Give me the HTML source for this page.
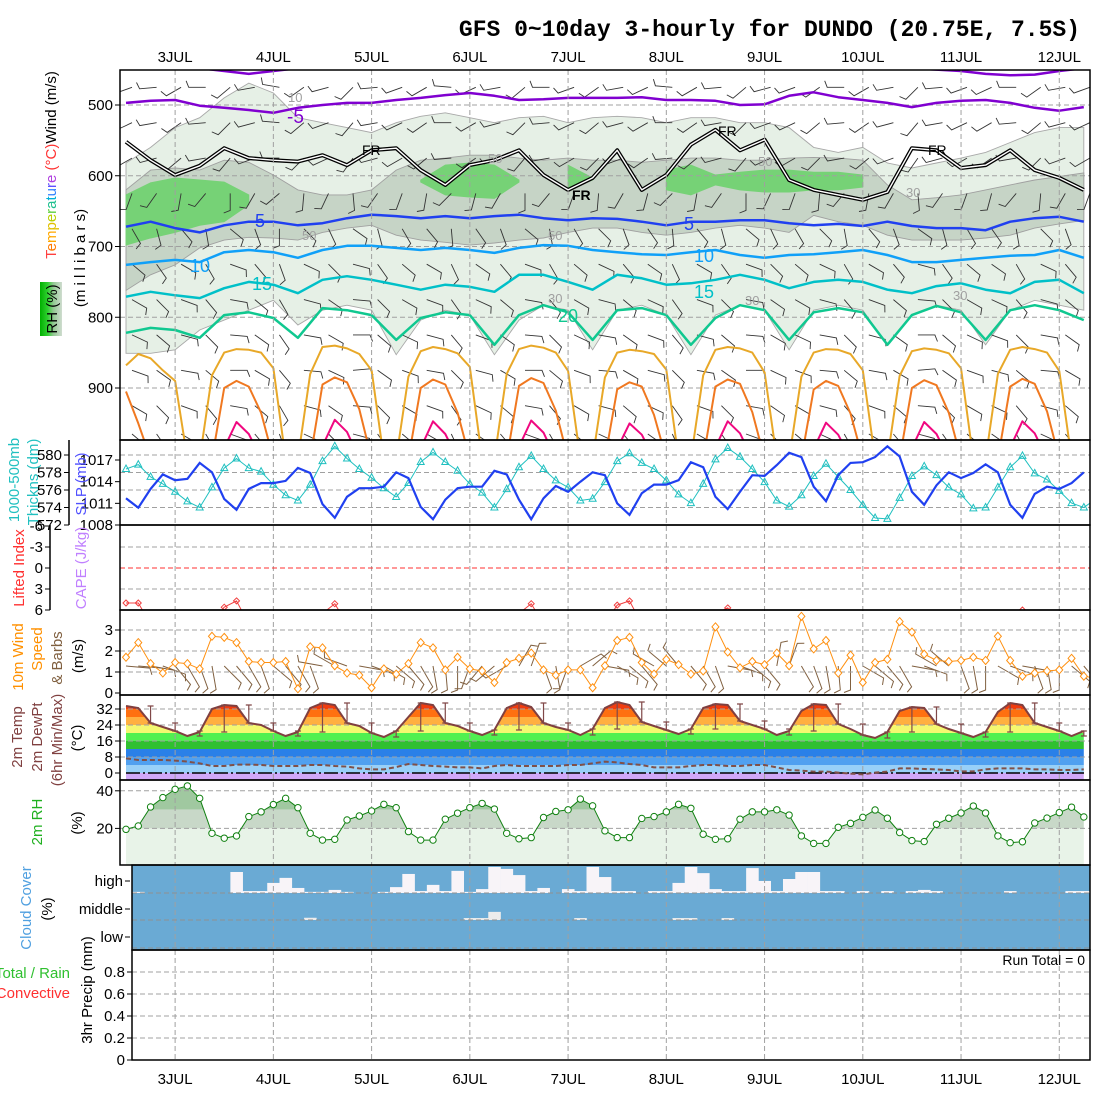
<!DOCTYPE html>
<html><head><meta charset="utf-8"><title>GFS meteogram DUNDO</title>
<style>
html,body{margin:0;padding:0;background:#fff;}
svg{display:block;font-family:"Liberation Sans",sans-serif;}
.t{font-size:15px;fill:#000;}
.lab{font-size:15px;}
</style></head>
<body>
<svg id="chart" width="1100" height="1100" viewBox="0 0 1100 1100" xmlns="http://www.w3.org/2000/svg">
<defs>
<clipPath id="cUpper"><rect x="120" y="70" width="970" height="370"/></clipPath>
<clipPath id="cThk"><rect x="120" y="440" width="970" height="85"/></clipPath>
<clipPath id="cLI"><rect x="120" y="525" width="970" height="85"/></clipPath>
<clipPath id="cWind"><rect x="120" y="610" width="970" height="85"/></clipPath>
<clipPath id="cCloud"><rect x="132" y="865" width="958" height="85"/></clipPath>
<clipPath id="cTempFill"><path id="tempClipPath" d=""/></clipPath>
<clipPath id="cRHFill"><path id="rhClipPath" d=""/></clipPath>
<linearGradient id="rhGrad" x1="0" x2="1" y1="0" y2="0">
<stop offset="0" stop-color="#00b000"/><stop offset="0.35" stop-color="#30d030"/><stop offset="0.6" stop-color="#90c890"/><stop offset="1" stop-color="#d0dcd0"/>
</linearGradient>
</defs>
<rect x="0" y="0" width="1100" height="1100" fill="#fff"/>
<text x="1080" y="36" text-anchor="end" style="font-family:'Liberation Mono',monospace;font-size:23px;font-weight:bold">GFS 0~10day 3-hourly for DUNDO (20.75E, 7.5S)</text>

<g id="gUpper" clip-path="url(#cUpper)"></g>
<g id="gThk"></g>
<g id="gLI"></g>
<g id="gWind" clip-path="url(#cWind)"></g>
<g id="gTemp"></g>
<g id="gRH"></g>
<g id="gCloud"></g>
<g id="gPrecip"></g>
<g id="gGrid"></g>
<g id="gLines"></g>
<g id="gFrames"></g>
<g id="gAxes"></g>

<g style="font-size:14px">
<text x="362" y="155" fill="#000">FR</text>
<text x="572" y="200" fill="#000" style="font-weight:bold">FR</text>
<text x="718" y="136" fill="#000">FR</text>
<text x="928" y="155" fill="#000">FR</text>
<text x="287" y="123" fill="#8000d0" style="font-size:19px">-5</text>
<text x="255" y="227" fill="#2040f0" style="font-size:18px">5</text>
<text x="684" y="230" fill="#2040f0" style="font-size:18px">5</text>
<text x="190" y="272" fill="#10a0f8" style="font-size:18px">10</text>
<text x="694" y="262" fill="#10a0f8" style="font-size:18px">10</text>
<text x="252" y="290" fill="#00c0c8" style="font-size:18px">15</text>
<text x="694" y="298" fill="#00c0c8" style="font-size:18px">15</text>
<text x="558" y="322" fill="#10c890" style="font-size:18px">20</text>
<text x="288" y="102" fill="#a0a0a0" style="font-size:13px">10</text>
<text x="488" y="163" fill="#a0a0a0" style="font-size:13px">50</text>
<text x="758" y="166" fill="#a0a0a0" style="font-size:13px">50</text>
<text x="302" y="240" fill="#a0a0a0" style="font-size:13px">50</text>
<text x="548" y="240" fill="#a0a0a0" style="font-size:13px">50</text>
<text x="906" y="197" fill="#a0a0a0" style="font-size:13px">30</text>
<text x="745" y="305" fill="#a0a0a0" style="font-size:13px">30</text>
<text x="548" y="303" fill="#a0a0a0" style="font-size:13px">30</text>
<text x="953" y="300" fill="#a0a0a0" style="font-size:13px">30</text>
</g>

<g class="lab">
<text transform="translate(56,165) rotate(-90)" text-anchor="middle"><tspan fill="#ff4040">T</tspan><tspan fill="#ff7a00">e</tspan><tspan fill="#ffa800">m</tspan><tspan fill="#e0c000">p</tspan><tspan fill="#b8d000">e</tspan><tspan fill="#60d040">r</tspan><tspan fill="#20c090">a</tspan><tspan fill="#00b0d8">t</tspan><tspan fill="#3080ff">u</tspan><tspan fill="#6050ff">r</tspan><tspan fill="#b040e0">e</tspan><tspan fill="#ff3030"> (°C)</tspan><tspan fill="#000">Wind (m/s)</tspan></text>
<text transform="translate(85,258) rotate(-90)" text-anchor="middle" fill="#000">(m i l l i b a r s)</text>
<rect x="40" y="282" width="22" height="54" fill="url(#rhGrad)"/>
<text transform="translate(57,309) rotate(-90)" text-anchor="middle" fill="#000">RH (%)</text>
<text transform="translate(19,480) rotate(-90)" text-anchor="middle" fill="#20c0c0">1000-500mb</text>
<text transform="translate(38,482) rotate(-90)" text-anchor="middle" fill="#20c0c0">Thickns (dm)</text>
<text transform="translate(86,484) rotate(-90)" text-anchor="middle" fill="#5050ff">SLP (mb)</text>
<text transform="translate(24,568) rotate(-90)" text-anchor="middle" fill="#ff3030">Lifted Index</text>
<text transform="translate(86,568) rotate(-90)" text-anchor="middle" fill="#c080ff">CAPE (J/kg)</text>
<text transform="translate(23,657) rotate(-90)" text-anchor="middle" fill="#ff9000">10m Wind</text>
<text transform="translate(42,649) rotate(-90)" text-anchor="middle" fill="#ff9000">Speed</text>
<text transform="translate(62,658) rotate(-90)" text-anchor="middle" fill="#806040">&amp; Barbs</text>
<text transform="translate(83,656) rotate(-90)" text-anchor="middle" fill="#000">(m/s)</text>
<text transform="translate(22,737) rotate(-90)" text-anchor="middle" fill="#804040">2m Temp</text>
<text transform="translate(42,737) rotate(-90)" text-anchor="middle" fill="#804040">2m DewPt</text>
<text transform="translate(62,740) rotate(-90)" text-anchor="middle" fill="#804040">(6hr Min/Max)</text>
<text transform="translate(82,738) rotate(-90)" text-anchor="middle" fill="#000">(°C)</text>
<text transform="translate(42,822) rotate(-90)" text-anchor="middle" fill="#20b020">2m RH</text>
<text transform="translate(82,823) rotate(-90)" text-anchor="middle" fill="#000">(%)</text>
<text transform="translate(31,908) rotate(-90)" text-anchor="middle" fill="#50a0e0">Cloud Cover</text>
<text transform="translate(52,909) rotate(-90)" text-anchor="middle" fill="#000">(%)</text>
<text x="70" y="978" text-anchor="end" fill="#30c030">Total / Rain</text>
<text x="70" y="998" text-anchor="end" fill="#ff3030">Convective</text>
<text transform="translate(92,990) rotate(-90)" text-anchor="middle" fill="#000">3hr Precip (mm)</text>
<text x="1085" y="965" text-anchor="end" fill="#000" style="font-size:14px">Run Total = 0</text>
</g>
</svg>

<script>
const days = ['3JUL','4JUL','5JUL','6JUL','7JUL','8JUL','9JUL','10JUL','11JUL','12JUL'];
const slp = [1011.7,1010.4,1013,1015,1014.2,1014.4,1016.6,1015.3,1011.6,1010.1,
 1013,1013.8,1013.8,1014.1,1015.9,1015.2,1010.9,1009,1011.9,1013.1,
 1013.1,1013.3,1015.3,1014.5,1010.5,1008.8,1011.5,1013.1,1013.3,1013.3,
 1015.5,1015,1011.5,1008.8,1011.7,1013.4,1012.6,1014,1015.3,1014.9,
 1011,1009.4,1012.4,1013.6,1013.6,1014.2,1016.7,1016,1011.9,1010.2,
 1012.6,1014.9,1014.8,1016.3,1018,1017.4,1013.3,1011.3,1014.9,1016.6,
 1016.7,1017.4,1018.9,1017.5,1012.6,1010.8,1013.5,1015.3,1014.5,1015.2,
 1016.4,1015.3,1010.8,1009,1012.3,1013.3,1013,1013.8,1015.3];
const thickness = [578.4,578.9,577.5,576.7,575.8,574.7,574,576.3,578.5,579.6,
 578.5,578.1,576.6,575.4,574.8,576.6,579.3,581,579.6,578.4,
 577.4,576.2,575.2,576.8,579.2,580.3,579.2,578.2,576.7,575.7,
 574,576.1,578.6,579.9,578.4,577.1,576.3,574.8,575,576.9,
 579.3,580.2,579.1,578.4,577.1,575.5,574.5,576.7,579.5,580.8,
 579.8,578.4,576.9,574.8,574.1,575.4,577.6,579,577.5,576,
 574.3,572.8,572.7,575.1,577.6,578.7,577.7,576.3,575.5,573.9,
 574,576.3,578.6,579.9,577.9,577.2,575.9,574.5,574,575];
const liftedIndex = [5,5,8,8,8,8,8,8,5.6,4.7,
 8,8,8,8,8,8,6.5,5.1,8,8,
 8,8,8,8,8,8,8,8,8,8,
 8,8,6.5,5.1,8,8,8,8,8,8,
 5.3,4.7,8,8,8,8,8,8,6.5,5.7,
 8,8,8,8,8,8,8,8,8,8,
 8,8,8,8,8,8,8,8,8,8,
 8,8,8,6,8,8,8,8,8];
const windSpeed = [1.7,2.4,1.4,0.95,1.45,1.4,1.15,2.7,2.65,2.4,
 1.5,1.45,1.45,1.5,0.2,2.2,2.15,1.3,0.95,0.85,
 0.25,1.15,0.9,1.4,2.4,2.15,1.1,1.7,1.15,1.05,
 0.5,1.45,1.65,1.9,1.1,0.85,1.1,1.1,0.25,1.3,
 2.5,2.65,1.45,0.9,1.6,1.35,0.9,1.05,3.15,1.95,
 1.2,1.5,1.35,1.9,1.3,3.65,2.1,2.5,0.95,1.8,
 0.5,1.45,1.6,3.4,2.9,1.85,1.55,1.5,1.55,1.7,
 1.55,2.7,1.55,0.8,0.95,1.05,1.1,1.65,0.8,0.7];
const windDir = [95,95,100,110,140,150,160,170,135,140,
 150,160,130,140,150,160,280,300,290,100,
 110,120,130,140,150,170,175,180,200,220,
 230,240,30,20,160,170,200,60,50,100,
 120,130,140,300,310,320,140,150,160,100,
 110,130,140,10,20,150,160,170,175,180,
 120,130,140,150,100,110,300,310,160,170,
 180,120,110,100,160,170,180,130,140];
const temp2m = [33.5,32.5,25,23,21,18.5,20.5,32,34,33.5,
 25,24,21,18.5,20.5,32.5,35,34,25,23.5,
 20,18,21,28,35,34,25,23.5,21,19,
 21.5,32.5,35,33,25,23,21.5,19,22,32.5,
 35.5,34,25.5,23.5,21.5,19.5,22,32.5,34.5,34,
 26,24,22,19,21,31,34.5,34,24.5,22,
 19,17.5,20.5,31,33,32.5,24.5,22,20,18,
 20.5,30.5,35,34,25,23,21,18.5,21];
const dewpt2m = [7.3,6.5,6.5,6.5,6.2,5.7,4.8,3.5,3.5,4.2,
 4.2,4,3.5,3.5,3.5,4,4,3.5,3.2,2.3,
 1.8,1.8,3,4.5,4,3.5,3.2,2.8,2.8,2.3,
 3.5,4,3.5,3.5,3.5,3.5,4,4,4.8,5.7,
 5.3,4.5,4,2.8,2.8,2.8,3.5,4,4,3.5,
 3.5,4,4,2.8,1.5,1.2,0.7,0.7,0.2,-0.3,
 -0.7,0.2,0.7,2.3,2.3,2,1.8,1.5,0.8,0.8,
 1.8,2.3,2.3,2.3,1.8,1.8,1.5,1.5,1.8];
const rh2m = [19.5,21.3,31.4,36.4,40.8,42.6,36,17.4,14.8,16,
 26.3,28.8,32.7,36,31,17.4,13.8,14.2,24.5,26.6,
 29.3,32.8,31,18.3,13.8,13.8,24.9,28.1,31,33.3,
 30.3,17.4,14.5,15.1,25.8,29,29.9,35.6,32,18.7,
 15.1,15.1,25.3,26.3,28.8,32.8,30.7,16.9,14.2,14.5,
 24.9,28.8,28.8,29.9,27.1,16,12,12,20.6,22.7,
 25.9,29.8,25.4,17.8,13.5,13,22.2,25.4,28.2,31.9,
 28.2,16,12.4,12.9,22.9,25.5,28.4,31.3,26.1];
const highCloud = [96,96,100,100,100,100,100,100,100,25,
 93,93,64,46,82,96,96,89,96,100,
 100,96,79,32,93,71,93,21,96,86,
 7,14,36,93,82,100,86,93,7,43,
 93,93,100,93,93,64,7,29,86,93,
 93,11,57,93,50,25,25,93,93,100,
 93,100,93,100,93,89,93,100,100,100,
 100,100,93,100,100,100,100,93,93];
const midCloud = [100,100,100,100,100,100,100,100,100,100,
 100,100,100,100,100,92,100,100,100,100,
 100,100,100,100,100,100,100,100,93,93,
 71,100,100,100,100,100,100,93,100,100,
 100,100,100,100,100,93,93,100,100,93,
 100,100,100,100,100,100,100,100,100,100,
 100,100,100,100,100,100,100,100,100,100,
 100,100,100,100,100,100,100,100,100];
const precip3h = [0,0,0,0,0,0,0,0,0,0,0,0,0,0,0,0,0,0,0,0,0,0,0,0,0,0,0,0,0,0,0,0,0,0,0,0,0,0,0,0,
 0,0,0,0,0,0,0,0,0,0,0,0,0,0,0,0,0,0,0,0,0,0,0,0,0,0,0,0,0,0,0,0,0,0,0,0,0,0,0];

const isoM10 = [445,445,445,448,452,456,452,448,446,446,445,445,445,445,445,445,445,445,445,445,
 445,445,445,445,445,445,445,445,445,445,445,445,448,450,452,456,458,457,452,448];
const isoM5 = [497,494,493,501,504,507,511,504,500,497,497,493,490,486,483,487,493,492,490,490,
 490,489,493,493,494,500,499,487,482,489,493,497,503,497,494,493,497,504,508,503];
const isoFR = [552,578,599,586,561,575,578,580,571,585,564,561,592,613,585,578,564,599,620,603,
 564,620,599,556,535,564,549,606,620,627,634,623,561,564,589,585,564,592,603,620];
const iso5 = [672,665,674,680,670,665,665,670,667,660,655,657,660,657,660,657,655,660,663,660,
 661,665,670,665,665,663,663,667,670,668,671,665,671,674,674,677,665,660,658,665];
const iso10 = [726,722,719,722,708,705,708,716,705,699,699,702,705,702,705,709,702,698,699,705,
 708,711,712,708,705,712,716,712,711,708,705,712,722,722,719,716,713,712,705,716];
const iso15 = [771,764,769,773,759,750,754,766,747,742,747,754,761,754,757,764,740,740,750,761,
 740,745,754,752,747,740,747,759,750,747,750,761,766,756,752,761,766,750,747,766];
const iso20 = [822,815,818,829,797,793,801,829,787,790,797,832,801,793,797,839,797,783,793,832,
 790,787,797,839,801,783,790,832,793,787,793,839,797,784,793,832,790,783,790,804];
const iso25 = [868,852,858,875,
 890,1000,1000,882,850,845,846,850,
 872,1000,1000,880,842,840,844,852,
 875,1000,1000,884,848,842,845,851,
 870,1000,1000,880,845,840,843,850,
 876,1000,1000,885,850,846,848,852,
 874,1000,1000,882,846,842,844,850,
 878,1000,1000,884,850,845,846,852,
 875,1000,1000,883,848,844,846,851,
 872,1000,1000,880,846,842,845,850,
 876,1000,1000];
const iso30 = [905,950,1000,1000,
 1000,1000,1000,1000,900,890,898,935,
 1000,1000,1000,1000,895,885,892,930,
 1000,1000,1000,1000,900,888,895,935,
 1000,1000,1000,1000,897,886,893,932,
 1000,1000,1000,1000,902,892,898,938,
 1000,1000,1000,1000,898,888,894,934,
 1000,1000,1000,1000,902,890,897,936,
 1000,1000,1000,1000,900,889,896,935,
 1000,1000,1000,1000,898,887,894,933,
 1000,1000,1000];
const iso35 = [1000,1000,1000,1000,
 1000,1000,1000,1000,985,948,965,1000,
 1000,1000,1000,1000,982,945,962,1000,
 1000,1000,1000,1000,985,947,965,1000,
 1000,1000,1000,1000,983,946,963,1000,
 1000,1000,1000,1000,986,950,966,1000,
 1000,1000,1000,1000,984,947,964,1000,
 1000,1000,1000,1000,986,949,966,1000,
 1000,1000,1000,1000,985,948,965,1000,
 1000,1000,1000,1000,984,947,964,1000,
 1000,1000,1000];
const rh30Top = [582,560,532,518,490,469,483,518,525,532,539,525,516,511,518,525,518,516,525,518,
 516,518,525,518,518,525,525,532,560,567,560,582,589,582,575,567,553,539,532,532];
const rh30Bot = [851,851,846,818,804,790,776,811,790,783,790,853,804,790,797,853,804,783,790,846,
 790,783,797,853,797,783,790,846,790,783,790,839,797,783,790,839,790,776,783,790];
const rh50Top = [620,592,589,592,578,581,599,620,627,627,620,592,578,575,571,571,575,578,575,578,
 578,581,578,575,575,578,578,575,574,575,578,613,634,631,627,620,613,606,601,596];
const rh50Bot = [762,740,726,702,691,687,688,691,680,674,670,684,691,694,698,695,691,688,680,674,
 674,680,684,680,674,670,674,680,656,665,670,684,691,691,691,688,684,674,668,663];
const rh70Top = [627,610,603,606,609,627,null,null,null,null,null,null,606,585,582,585,606,null,585,603,
 null,null,592,585,599,595,592,592,595,595,599,null,null,null,null,null,null,null,null,null];
const rh70Bot = [698,688,680,670,665,641,null,null,null,null,null,null,609,627,630,632,609,null,620,606,
 null,null,620,627,613,620,623,623,620,620,616,null,null,null,null,null,null,null,null,null];
const barbLevels = [475,525,575,625,675,725,775,825,875,925,965];
const barbLevelDir = [250,245,240,200,150,130,120,115,110,120,130];
const barbTimeShift = [0,15,-10,20,-20,10,30,-15,5,-25,15,0,-10,25,-5,10,-20,20,0,-15,10,-5,25,-10,15,-20,5,0,-15,20,-10,10,-25,15,0,-5,20,-15,10,0];

const NS = 'http://www.w3.org/2000/svg';
const x0 = 126, dx = 12.28;
function X(i){ return x0 + dx*i; }
function Xk(k){ return x0 + dx*2*k; }
function Yp(p){ return 105 + (p-500)*0.7075; }
function yThk(v){ return 525 - (v-572)*8.75; }
function ySlp(v){ return 525 - (v-1008)*7.222; }
function yLI(v){ return 568 + v*7; }
function yWind(v){ return 693 - v*21; }
function yT(v){ return 773 - v*2; }
function yRH(v){ return 866 - v*1.88; }
function yPr(v){ return 1060 - v*110; }
function mk(tag, attrs, parent){ const e=document.createElementNS(NS,tag); for(const k in attrs) e.setAttribute(k, attrs[k]); parent.appendChild(e); return e; }
function pathOf(arr, xf, yf){ let d=''; arr.forEach((v,i)=>{ if(v==null) return; d += (d?'L':'M') + xf(i).toFixed(1) + ' ' + yf(v).toFixed(1); }); return d; }

const gU = document.getElementById('gUpper');
const gThk = document.getElementById('gThk');
const gLI = document.getElementById('gLI');
const gW = document.getElementById('gWind');
const gT = document.getElementById('gTemp');
const gRH = document.getElementById('gRH');
const gC = document.getElementById('gCloud');
const gP = document.getElementById('gPrecip');
const gG = document.getElementById('gGrid');
const gL = document.getElementById('gLines');
const gF = document.getElementById('gFrames');
const gA = document.getElementById('gAxes');

function band(top, bot, fill, stroke, name){
  let seg=[];
  const flush=()=>{
    if(seg.length<2){ seg=[]; return; }
    let d='M'+seg.map(k=>Xk(k).toFixed(1)+' '+Yp(top[k]).toFixed(1)).join('L');
    d+='L'+seg.slice().reverse().map(k=>Xk(k).toFixed(1)+' '+Yp(bot[k]).toFixed(1)).join('L')+'Z';
    const e = mk('path',{d:d,fill:fill,stroke:stroke,'stroke-width':0.9},gU);
    
    
    seg=[];
  };
  for(let k=0;k<top.length;k++){ if(top[k]==null){ flush(); } else seg.push(k); }
  flush();
}
band(rh30Top, rh30Bot, '#e6f0e6', '#a8a8a8', 'rh-30-shading');
band(rh50Top, rh50Bot, '#c6d4c6', '#a0a0a0', 'rh-50-shading');
band(rh70Top, rh70Bot, '#76d276', '#76d276', 'rh-70-shading');

[500,600,700,800,900].forEach(p=>{
  const l = mk('line',{x1:120,x2:1090,y1:Yp(p),y2:Yp(p),stroke:'#a0a0a0','stroke-dasharray':'5,3','stroke-width':1},gU);
  
  
});

function drawBarb(parent, x, y, ang, len, color, w, name){
  const r = ang*Math.PI/180;
  const ex = x + len*Math.sin(r), ey = y - len*Math.cos(r);
  const r2 = r + 1.2;
  const tx = ex + 7*Math.sin(r2), ty = ey - 7*Math.cos(r2);
  const e = mk('path',{d:'M'+x.toFixed(1)+' '+y.toFixed(1)+'L'+ex.toFixed(1)+' '+ey.toFixed(1)+'L'+tx.toFixed(1)+' '+ty.toFixed(1),stroke:color,'stroke-width':w,fill:'none'},parent);
  
  
}
barbLevels.forEach((p,l)=>{
  barbTimeShift.forEach((s,k)=>{
    drawBarb(gU, Xk(k)+6, Yp(p), barbLevelDir[l]+s, 17, '#333', 0.9, 'upper-wind-barb');
  });
});

function iso(arr, xf, color, w, name){
  const e = mk('path',{d:pathOf(arr, xf, Yp),stroke:color,'stroke-width':w,fill:'none','stroke-linejoin':'round'},gU);
  
  
}
iso(isoM10, Xk, '#8000d0', 2.5, 'isotherm-minus10');
iso(isoM5, Xk, '#8000d0', 2.5, 'isotherm-minus5');
iso(isoFR, Xk, '#000', 4, 'freezing-level-outer');
iso(isoFR, Xk, '#fff', 1.4, 'freezing-level-inner');
iso(iso5, Xk, '#2040f0', 2.5, 'isotherm-5');
iso(iso10, Xk, '#10a0f8', 2.5, 'isotherm-10');
iso(iso15, Xk, '#00c0c8', 2.5, 'isotherm-15');
iso(iso20, Xk, '#10c890', 2.5, 'isotherm-20');
iso(iso25, X, '#e8a828', 2, 'isotherm-25');
iso(iso30, X, '#f07820', 2, 'isotherm-30');
iso(iso35, X, '#f00880', 2, 'isotherm-35');

days.forEach((d,n)=>{
  const x = X(4+8*n);
  const l = mk('line',{x1:x,x2:x,y1:70,y2:1060,stroke:'#a0a0a0','stroke-dasharray':'5,3','stroke-width':1},gG);
  
  
  const t1 = mk('text',{x:x,y:62,'text-anchor':'middle',class:'t'},gA);
  t1.textContent = d;
  
  
  const t2 = mk('text',{x:x,y:1084,'text-anchor':'middle',class:'t'},gA);
  t2.textContent = d;
  
  
});
function hgrid(y, x1, color){
  const l = mk('line',{x1:x1||120,x2:1090,y1:y,y2:y,stroke:color||'#a0a0a0','stroke-dasharray':'5,3','stroke-width':1},gG);
  
  
}
[580,578,576,574].forEach(v=>hgrid(yThk(v)));
[-3,3].forEach(v=>hgrid(yLI(v)));
hgrid(yLI(0), 120, '#ff3030');
[1,2,3].forEach(v=>hgrid(yWind(v)));
[40,20].forEach(v=>hgrid(yRH(v)));
[893,920,948].forEach(v=>hgrid(v,132,'#909090'));
[0.2,0.4,0.6,0.8].forEach(v=>hgrid(yPr(v),132));

const thkLine = mk('path',{d:pathOf(thickness, X, yThk),stroke:'#20c0c0','stroke-width':1,fill:'none','clip-path':'url(#cThk)'},gL);


thickness.forEach((v,i)=>{
  const x=X(i), y=yThk(v);
  if(x>1090) return;
  const m = mk('path',{d:'M'+x+' '+(y-4)+'L'+(x+3.5)+' '+(y+2.5)+'L'+(x-3.5)+' '+(y+2.5)+'Z',stroke:'#20c0c0',fill:'none','stroke-width':1},gL);
  
  
});
const slpLine = mk('path',{d:pathOf(slp, X, ySlp),stroke:'#2040f0','stroke-width':2.2,fill:'none'},gL);



const liLine = mk('path',{d:pathOf(liftedIndex, X, yLI),stroke:'#f04040','stroke-width':1,fill:'none','clip-path':'url(#cLI)'},gL);


liftedIndex.forEach((v,i)=>{
  if(v>6) return;
  const x=X(i), y=yLI(v);
  const m = mk('path',{d:'M'+x+' '+(y-3)+'L'+(x+3)+' '+y+'L'+x+' '+(y+3)+'L'+(x-3)+' '+y+'Z',stroke:'#f04040',fill:'none','clip-path':'url(#cLI)'},gL);
  
  
});

windDir.forEach((a,i)=>{
  drawBarb(gW, X(i), 666, a, 24, '#806040', 1, 'wind-10m-barb');
});
const wLine = mk('path',{d:pathOf(windSpeed, X, yWind),stroke:'#ff9010','stroke-width':1,fill:'none','clip-path':'url(#cWind)'},gL);


windSpeed.forEach((v,i)=>{
  const x=X(i), y=yWind(v);
  if(x>1090) return;
  const m = mk('path',{d:'M'+x+' '+(y-4)+'L'+(x+3.5)+' '+y+'L'+x+' '+(y+4)+'L'+(x-3.5)+' '+y+'Z',stroke:'#ff9010',fill:'#fff','stroke-width':1},gL);
  
  
});

(function(){
  let d = 'M'+X(0)+' 780';
  temp2m.forEach((v,i)=>{ d += 'L'+X(i).toFixed(1)+' '+yT(v).toFixed(1); });
  d += 'L'+X(temp2m.length-1).toFixed(1)+' 780Z';
  document.getElementById('tempClipPath').setAttribute('d', d);
})();
const tBands = [[40,32,'#f03c10'],[32,28,'#ff7010'],[28,24,'#ffb040'],[24,20,'#f4f870'],[20,16,'#50f050'],[16,12,'#30c030'],[12,8,'#2a80e8'],[8,4,'#50a0f0'],[4,0,'#98d0f8'],[0,-10,'#d0a8f8']];
const tFillG = mk('g',{'clip-path':'url(#cTempFill)'},gT);


tBands.forEach(b=>{
  const y1=Math.max(695,yT(b[0])), y2=Math.min(780,yT(b[1]));
  const r = mk('rect',{x:120,y:y1,width:970,height:y2-y1,fill:b[2]},tFillG);
  
  
});
[32,24,16,8].forEach(v=>hgrid(yT(v)));
const zl = mk('line',{x1:126,x2:1084,y1:yT(0),y2:yT(0),stroke:'#000','stroke-width':1.5,'stroke-dasharray':'14,3,2,3'},gL);


const dLine = mk('path',{d:pathOf(dewpt2m, X, yT),stroke:'#805048','stroke-width':2,'stroke-dasharray':'5,3',fill:'none'},gL);


const tLine = mk('path',{d:pathOf(temp2m, X, yT),stroke:'#804040','stroke-width':2,fill:'none'},gL);


for(let i=2;i<temp2m.length;i+=2){
  const seg = temp2m.slice(i-2,i+1);
  const hi = Math.max.apply(null,seg), lo = Math.min.apply(null,seg);
  const x = X(i);
  const e = mk('path',{d:'M'+x+' '+yT(hi)+'L'+x+' '+yT(lo)+'M'+(x-3)+' '+yT(hi)+'L'+(x+3)+' '+yT(hi)+'M'+(x-3)+' '+yT(lo)+'L'+(x+3)+' '+yT(lo),stroke:'#804848','stroke-width':1.2,fill:'none'},gL);
  
  
}

(function(){
  let d = 'M'+X(0)+' 865';
  rh2m.forEach((v,i)=>{ d += 'L'+X(i).toFixed(1)+' '+yRH(v).toFixed(1); });
  d += 'L'+X(rh2m.length-1).toFixed(1)+' 865Z';
  document.getElementById('rhClipPath').setAttribute('d', d);
})();
const rhFillG = mk('g',{'clip-path':'url(#cRHFill)'},gRH);


[[100,30,'#a0c8a0'],[30,20,'#c8d8c8'],[20,0,'#e8f3e8']].forEach(b=>{
  const y1=Math.max(780,yRH(b[0])), y2=Math.min(865,yRH(b[1]));
  const r = mk('rect',{x:120,y:y1,width:970,height:y2-y1,fill:b[2]},rhFillG);
  
  
});
const rhLine = mk('path',{d:pathOf(rh2m, X, yRH),stroke:'#108010','stroke-width':1,fill:'none'},gL);


rh2m.forEach((v,i)=>{
  const c = mk('circle',{cx:X(i),cy:yRH(v),r:3.2,fill:'#fff',stroke:'#108010','stroke-width':1},gL);
  
  
});

const cbg = mk('rect',{x:132,y:865,width:958,height:85,fill:'#6aaad4'},gC);


const cg = mk('g',{'clip-path':'url(#cCloud)'},gC);


highCloud.forEach((v,i)=>{
  const h = (100-v)/100*28;
  if(h<=0) return;
  const r = mk('rect',{x:X(i)-dx/2,y:893-h,width:dx+0.3,height:h,fill:'#f8f4f8'},cg);
  
  
});
midCloud.forEach((v,i)=>{
  const h = (100-v)/100*28;
  if(h<=0) return;
  const r = mk('rect',{x:X(i)-dx/2,y:920-h,width:dx+0.3,height:h,fill:'#ececec'},cg);
  
  
});

precip3h.forEach((v,i)=>{
  if(v<=0) return;
  const r = mk('rect',{x:X(i)-dx/2,y:yPr(v),width:dx,height:1060-yPr(v),fill:'#30c030'},gP);
  
  
});

[[120,70,970,370],[120,440,970,85],[120,525,970,85],[120,610,970,85],[120,695,970,85],[120,780,970,85],[132,865,958,85],[132,950,958,110]].forEach(r=>{
  const e = mk('rect',{x:r[0],y:r[1],width:r[2],height:r[3],fill:'none',stroke:'#000','stroke-width':1.5},gF);
  
  
});
[[69,440,69,525],[50,525,50,610]].forEach(a=>{
  const e = mk('line',{x1:a[0],y1:a[1],x2:a[2],y2:a[3],stroke:'#000','stroke-width':1.5},gF);
  
  
});

function alab(x, y, s, name){
  const t = mk('text',{x:x,y:y+5,'text-anchor':'end',class:'t'},gA);
  t.textContent = s;
  
  
  const tk = mk('line',{x1:x+2,x2:x+7,y1:y,y2:y,stroke:'#000'},gA);
  
  
}
[500,600,700,800,900].forEach(p=>alab(113,Yp(p),String(p),'pressure-tick-label'));
[580,578,576,574,572].forEach(v=>alab(62,yThk(v),String(v),'thickness-tick-label'));
[1017,1014,1011,1008].forEach(v=>alab(113,ySlp(v),String(v),'slp-tick-label'));
[-6,-3,0,3,6].forEach(v=>alab(43,yLI(v),String(v),'li-tick-label'));
[3,2,1,0].forEach(v=>alab(113,yWind(v),String(v),'wind-tick-label'));
[32,24,16,8,0].forEach(v=>alab(113,yT(v),String(v),'temp-tick-label'));
[40,20].forEach(v=>alab(113,yRH(v),String(v),'rh-tick-label'));
[['high',881],['middle',909],['low',937]].forEach(a=>alab(123,a[1],a[0],'cloud-layer-label'));
[0.8,0.6,0.4,0.2,0].forEach(v=>alab(125,yPr(v),String(v),'precip-tick-label'));
</script>
</body></html>
